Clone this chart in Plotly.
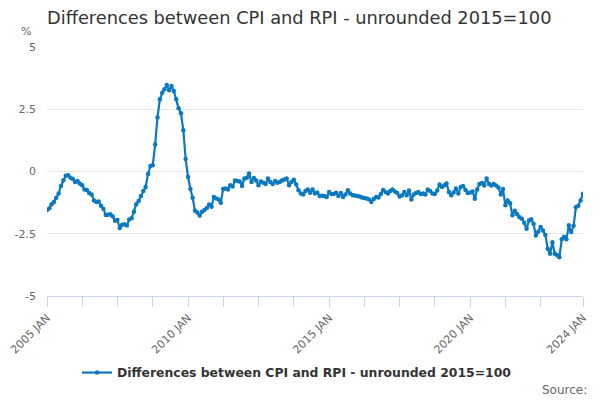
import pandas as pd
import plotly.graph_objects as go

# Monthly values, Jan 2005 .. Jan 2024 (percentage points)
v2005 = [-1.55, -1.48, -1.32, -1.22, -1.05, -0.88, -0.58, -0.35, -0.17, -0.15, -0.25, -0.30]
v2006 = [-0.42, -0.38, -0.48, -0.55, -0.72, -0.74, -0.86, -0.92, -1.16, -1.22, -1.20, -1.38]
v2007 = [-1.50, -1.75, -1.74, -1.72, -1.80, -1.98, -1.95, -2.27, -2.14, -2.12, -2.17, -1.93]
v2008 = [-1.88, -1.62, -1.32, -1.18, -0.98, -0.78, -0.62, -0.10, 0.22, 0.25, 1.08, 2.17]
v2009 = [2.90, 3.16, 3.30, 3.47, 3.26, 3.43, 3.23, 2.90, 2.54, 2.34, 1.66, 0.50]
v2010 = [-0.22, -0.70, -1.05, -1.58, -1.65, -1.77, -1.62, -1.55, -1.47, -1.33, -1.42, -1.02]
v2011 = [-1.08, -1.12, -1.25, -0.70, -0.68, -0.72, -0.55, -0.60, -0.36, -0.38, -0.40, -0.58]
v2012 = [-0.28, -0.25, -0.08, -0.42, -0.26, -0.36, -0.55, -0.40, -0.45, -0.50, -0.28, -0.42]
v2013 = [-0.50, -0.38, -0.45, -0.42, -0.36, -0.32, -0.28, -0.55, -0.42, -0.33, -0.52, -0.75]
v2014 = [-0.88, -0.92, -0.78, -0.72, -0.85, -0.72, -0.88, -0.84, -0.98, -0.97, -0.98, -1.02]
v2015 = [-0.82, -0.90, -0.90, -0.85, -0.98, -0.86, -1.02, -0.92, -0.75, -0.88, -0.95, -0.96]
v2016 = [-0.98, -1.00, -1.04, -1.06, -1.08, -1.12, -1.22, -1.10, -1.02, -1.04, -0.90, -0.74]
v2017 = [-0.82, -0.88, -0.78, -0.72, -0.80, -0.86, -1.00, -0.96, -0.82, -0.95, -0.76, -1.12]
v2018 = [-0.92, -0.86, -0.82, -0.90, -0.88, -0.92, -0.72, -0.78, -0.88, -0.90, -0.76, -0.52]
v2019 = [-0.62, -0.55, -0.48, -0.82, -0.95, -0.84, -0.68, -0.88, -0.62, -0.58, -0.74, -0.86]
v2020 = [-0.84, -0.80, -1.09, -0.72, -0.50, -0.46, -0.56, -0.28, -0.50, -0.56, -0.50, -0.56]
v2021 = [-0.64, -0.92, -0.70, -1.36, -1.16, -1.28, -1.76, -1.58, -1.72, -1.84, -1.90, -2.06]
v2022 = [-2.30, -1.97, -1.92, -2.10, -2.57, -2.42, -2.23, -2.37, -2.55, -3.10, -3.30, -2.84]
v2023 = [-3.30, -3.36, -3.44, -2.72, -2.62, -2.72, -2.16, -2.43, -2.18, -1.44, -1.38, -1.16]
v2024 = [-0.89]

values = (v2005 + v2006 + v2007 + v2008 + v2009 + v2010 + v2011 + v2012 + v2013 + v2014
          + v2015 + v2016 + v2017 + v2018 + v2019 + v2020 + v2021 + v2022 + v2023 + v2024)
dates = pd.date_range("2005-01-01", periods=len(values), freq="MS")

series_name = "Differences between CPI and RPI - unrounded 2015=100"
y_ticks = [-5, -2.5, 0, 2.5, 5]
y_labels = ["-5", "-2.5", "0", "2.5", "5"]
labelled = {"2005-01-01": "2005 JAN", "2010-01-01": "2010 JAN", "2015-01-01": "2015 JAN",
            "2020-01-01": "2020 JAN", "2024-01-01": "2024 JAN"}
tick_dates = list(pd.date_range("2005-01-01", "2022-07-01", freq="15MS")) + [pd.Timestamp("2024-01-01")]
tick_text = [labelled.get(d.strftime("%Y-%m-%d"), "") for d in tick_dates]

# The page body has an 8px margin, so the figure is 592x392 and offset by 8px.
W, H = 592, 392
color = "#0b79c0"
fig = go.Figure()
fig.add_trace(go.Scatter(
    x=dates, y=values, mode="lines+markers", name=series_name,
    line=dict(color=color, width=2.2), marker=dict(color=color, size=4.5),
))

fig.update_layout(
    width=W, height=H,
    margin=dict(l=39, r=17, t=39, b=104, autoexpand=False),
    paper_bgcolor="white", plot_bgcolor="white",
    font=dict(family="DejaVu Sans", color="#666666"),
    title=dict(text="Differences between CPI and RPI - unrounded 2015=100",
               x=39 / W, xanchor="left", xref="container",
               y=1 - 10 / H, yanchor="middle", yref="container", automargin=False,
               font=dict(size=17.8, color="#333333", family="DejaVu Sans")),
    showlegend=True,
    legend=dict(orientation="h", x=0.5 - 18 / 536, xanchor="center", y=(296 - 373) / 249,
                yanchor="middle",
                font=dict(size=12.4, color="#333333", family="DejaVu Sans", weight="bold")),
    annotations=[
        dict(text="%", x=(26 - 47) / 536, y=(296 - 32) / 249, xref="paper", yref="paper",
             showarrow=False, xanchor="center", yanchor="middle",
             font=dict(size=11, color="#666666")),
        dict(text="Source:", x=(589 - 47) / 536, y=(296 - 390) / 249, xref="paper", yref="paper",
             showarrow=False, xanchor="right", yanchor="middle",
             font=dict(size=12, color="#666666")),
    ],
)
fig.update_xaxes(
    range=[pd.Timestamp("2005-01-01"), pd.Timestamp("2024-01-01")], automargin=False,
    tickmode="array", tickvals=tick_dates, ticktext=tick_text, tickangle=-45,
    ticks="outside", ticklen=10, tickcolor="#ccd6eb", tickwidth=1,
    showline=True, linecolor="#ccd6eb", linewidth=1, showgrid=False, zeroline=False,
    tickfont=dict(size=11, color="#666666"),
)
fig.update_yaxes(
    range=[-5, 5], tickmode="array", tickvals=y_ticks, ticktext=y_labels, automargin=False,
    showgrid=True, gridcolor="#e6e6e6", gridwidth=1, zeroline=False, showline=False,
    ticks="", ticklabelstandoff=10, tickfont=dict(size=11, color="#666666"),
)

fig.write_html("out.html")
